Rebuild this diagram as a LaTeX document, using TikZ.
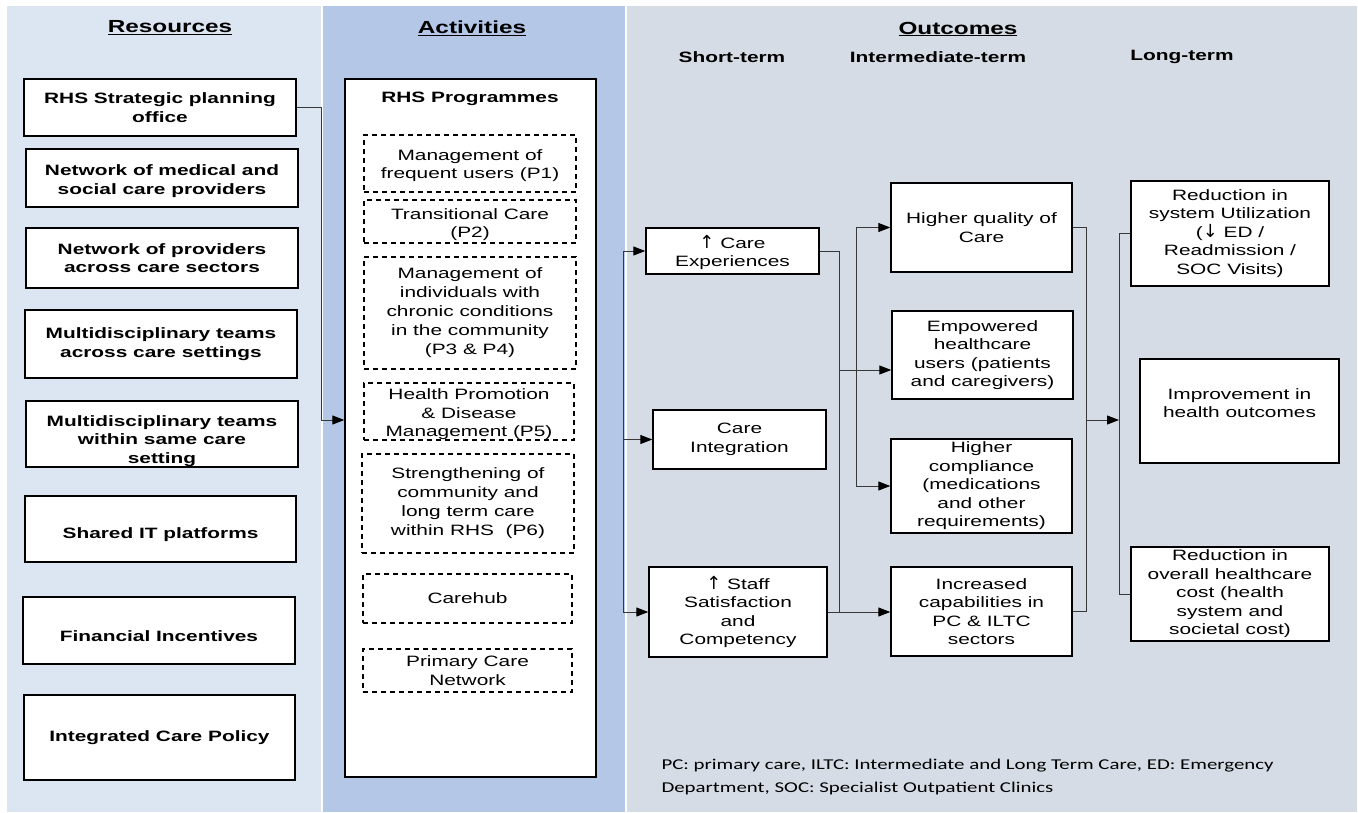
\documentclass[tikz,border=0pt]{standalone}
\usepackage{fontspec}
\setmainfont{Liberation Sans}[FakeStretch=1.39]
\newfontfamily\notefont{Carlito}[FakeStretch=1.39]
\newfontfamily\arrowfont{DejaVu Sans}
\usetikzlibrary{arrows.meta}
\definecolor{resbg}{HTML}{DCE6F2}
\definecolor{actbg}{HTML}{B4C7E7}
\definecolor{outbg}{HTML}{D6DCE5}
\definecolor{linkc}{HTML}{383838}
\newcommand{\uparr}{{\arrowfont\fontsize{18}{18}\selectfont ↑}}
\newcommand{\downarr}{{\arrowfont\fontsize{18}{18}\selectfont ↓}}

\begin{document}
\begin{tikzpicture}[x=1pt,y=-1pt,
  box/.style={draw=black, line width=1.4pt, fill=white, align=center, inner sep=2pt,
    font=\fontsize{15}{18.5}\selectfont},
  resbox/.style={box, font=\fontsize{15}{18.5}\selectfont\bfseries},
  restext/.style={align=center, font=\fontsize{15}{18.5}\selectfont\bfseries},
  boxtext/.style={align=center, font=\fontsize{15}{18.5}\selectfont},
  prog/.style={draw=black, line width=1.4pt, dash pattern=on 5pt off 4pt, align=center,
    inner sep=2pt, font=\fontsize{15}{19}\selectfont},
  link/.style={draw=linkc, line width=1pt},
  flow/.style={link, -{Triangle[length=12pt,width=9pt,fill=black,color=black]}},
  head/.style={font=\fontsize{17.5}{20}\selectfont\bfseries},
  subhead/.style={font=\fontsize{15}{18}\selectfont\bfseries},
  note/.style={font=\notefont\fontsize{15}{23}\selectfont, align=left, anchor=west},
]
% canvas and the three column panels
\fill[white] (0,0) rectangle (1358,812);
\useasboundingbox (0,0) rectangle (1358,812);
\fill[resbg] (7,6) rectangle (321,812);
\fill[actbg] (322.5,6) rectangle (625,812);
\fill[outbg] (626.5,6) rectangle (1357,812);

% column headings
\node[head] (hres) at (170,28) {\underline{Resources}};
\node[head] (hact) at (472,28) {\underline{Activities}};
\node[head] (hout) at (958,29) {\underline{Outcomes}};
\node[subhead] (hshort) at (732,57) {Short-term};
\node[subhead] (hinter) at (938,57) {Intermediate-term};
\node[subhead] (hlong) at (1182,57) {Long-term};

% resources
\node[resbox, minimum width=272pt, minimum height=57pt] (R1) at (160,107.5) {RHS Strategic planning\\office};
\node[resbox, minimum width=272pt, minimum height=58pt] (R2) at (162,178) {};
\node[restext] (R2t) at ([yshift=-3pt]R2.center) {Network of medical and\\social care providers};
\node[resbox, minimum width=272pt, minimum height=60pt] (R3) at (162,258) {Network of providers\\across care sectors};
\node[resbox, minimum width=272pt, minimum height=68pt] (R4) at (161,344) {Multidisciplinary teams\\across care settings};
\node[resbox, minimum width=272pt, minimum height=66pt] (R5) at (162,434) {};
\node[restext] (R5t) at ([yshift=-7pt]R5.center) {Multidisciplinary teams\\within same care\\setting};
\node[resbox, minimum width=271pt, minimum height=66pt] (R6) at (160.5,529) {};
\node[restext] (R6t) at ([yshift=-6pt]R6.center) {Shared IT platforms};
\node[resbox, minimum width=272pt, minimum height=67pt] (R7) at (159,630.5) {};
\node[restext] (R7t) at ([yshift=-6pt]R7.center) {Financial Incentives};
\node[resbox, minimum width=271pt, minimum height=85pt] (R8) at (159.5,737.5) {Integrated Care Policy};

% activities
\node[box, minimum width=251pt, minimum height=698pt] (RHS) at (470.5,428) {};
\node[font=\fontsize{15}{18}\selectfont\bfseries] (RHSt) at (470,99) {RHS Programmes};
\node[prog, minimum width=212pt, minimum height=57pt] (P1) at (470,163.5) {};
\node[boxtext] (P1t) at ([yshift=-2pt]P1.center) {Management of\\frequent users (P1)};
\node[prog, minimum width=212pt, minimum height=43pt] (P2) at (470,221.5) {};
\node[boxtext] (P2t) at ([yshift=-3pt]P2.center) {Transitional Care\\(P2)};
\node[prog, minimum width=212pt, minimum height=112pt] (P3) at (470,313) {Management of\\individuals with\\chronic conditions\\in the community\\(P3 \& P4)};
\node[prog, minimum width=210pt, minimum height=57pt] (P5) at (469,411.5) {};
\node[boxtext] (P5t) at ([yshift=-3pt]P5.center) {Health Promotion\\\& Disease\\Management (P5)};
\node[prog, minimum width=212pt, minimum height=99pt] (P6) at (468,503.5) {Strengthening of\\community and\\long term care\\within RHS\ \ (P6)};
\node[prog, minimum width=209pt, minimum height=49pt] (CH) at (467.5,598.5) {Carehub};
\node[prog, minimum width=209pt, minimum height=43pt] (PCN) at (467.5,670.5) {Primary Care\\Network};

% short-term outcomes
\node[box, minimum width=173pt, minimum height=46pt] (S1) at (732.5,251) {};
\node[boxtext] (S1t) at ([yshift=-1.5pt]S1.center) {\uparr\ Care\\Experiences};
\node[box, minimum width=173pt, minimum height=59pt] (S2) at (739.5,439.5) {Care\\Integration};
\node[box, minimum width=178pt, minimum height=90pt] (S3) at (738,612) {\uparr\ Staff\\Satisfaction\\and\\Competency};

% intermediate-term outcomes
\node[box, minimum width=181pt, minimum height=89pt] (I1) at (981.5,227.5) {Higher quality of\\Care};
\node[box, minimum width=181pt, minimum height=88pt] (I2) at (982.5,355) {Empowered\\healthcare\\users (patients\\and caregivers)};
\node[box, minimum width=181pt, minimum height=94pt] (I3) at (981.5,486) {Higher\\compliance\\(medications\\and other\\requirements)};
\node[box, minimum width=181pt, minimum height=89pt] (I4) at (981.5,611.5) {Increased\\capabilities in\\PC \& ILTC\\sectors};

% long-term outcomes
\node[box, minimum width=198pt, minimum height=105pt] (L1) at (1230,233.5) {Reduction in\\system Utilization\\(\downarr\ ED /\\Readmission /\\SOC Visits)};
\node[box, minimum width=199pt, minimum height=104pt] (L2) at (1239.5,411) {};
\node[boxtext] (L2t) at ([yshift=8pt]L2.center) {Improvement in\\health outcomes};
\node[box, minimum width=198pt, minimum height=94pt] (L3) at (1230,594) {Reduction in\\overall healthcare\\cost (health\\system and\\societal cost)};

% footnote
\node[note] (fn) at (658,776.5) {PC: primary care, ILTC: Intermediate and Long Term Care, ED: Emergency\\Department, SOC: Specialist Outpatient Clinics};

% junction points of the connectors
\coordinate (rbus) at (321,420);
\coordinate (sbus) at (623,0);
\coordinate (ca) at (839,0);
\coordinate (cb) at (856,0);
\coordinate (cm) at (839,370);
\coordinate (da) at (1086,0);
\coordinate (dm) at (1086,420);
\coordinate (db) at (1119,0);

% resources -> programmes
\draw[link] (R1.east) -| (rbus);
\draw[flow] (rbus) -- (rbus -| RHS.west);

% programmes -> short-term
\draw[link] (sbus |- S1.west) -- (sbus |- S3.west);
\draw[flow] (sbus |- S1.west) -- (S1.west);
\draw[flow] (sbus |- S2.west) -- (S2.west);
\draw[flow] (sbus |- S3.west) -- (S3.west);

% short-term -> intermediate-term
\draw[link] (S1.east) -| (ca |- S3.east);
\draw[flow] (S3.east) -- (I4.west |- S3.east);
\draw[flow] (cm) -- (cm -| I2.west);
\draw[link] (cb |- I1.west) -- (cb |- I3.west);
\draw[flow] (cb |- I1.west) -- (I1.west);
\draw[flow] (cb |- I3.west) -- (I3.west);

% intermediate-term -> long-term
\draw[link] (I1.east) -| (da |- I4.east) -- (I4.east);
\draw[flow] (dm) -- (dm -| db);
\draw[link] (L1.west) -| (db |- L3.west) -- (L3.west);
\end{tikzpicture}
\end{document}
